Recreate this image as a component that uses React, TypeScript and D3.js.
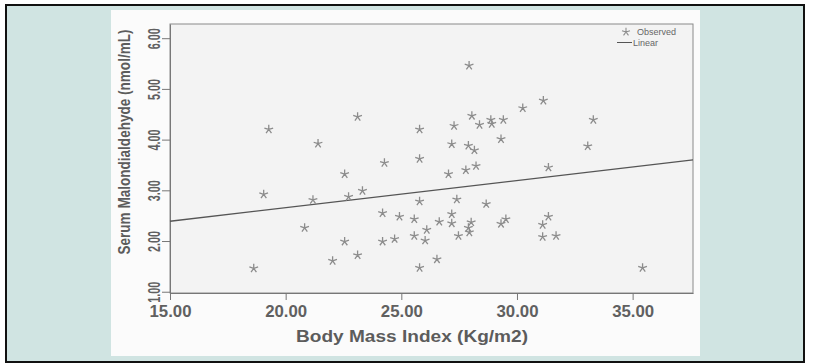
import * as d3 from "d3";
import { useEffect, useRef } from "react";

// BMI (Kg/m2) and serum MDA (nmol/mL)
const bmi = [
  19.27, 21.4, 22.55, 19.05, 21.18, 22.72, 20.82, 22.55, 22.03, 18.62,
  27.93, 23.11, 30.25, 28.05, 28.87, 29.41, 28.38, 28.91, 25.79, 27.28,
  27.18, 27.9, 28.16, 29.31, 24.27, 25.79, 27.04, 27.79, 28.23, 23.32,
  25.79, 27.4, 28.67, 24.19, 24.92, 25.56, 26.1, 26.64, 27.18, 27.18,
  28.02, 27.9, 27.94, 27.47, 29.31, 29.52, 25.56, 26.03, 24.71, 24.19,
  23.11, 26.54, 25.79, 31.14, 33.3, 33.06, 31.36, 31.36, 31.11, 31.11,
  31.69, 35.43,
];
const mda = [
  4.2, 3.92, 3.32, 2.92, 2.81, 2.87, 2.26, 1.99, 1.61, 1.46,
  5.46, 4.45, 4.62, 4.47, 4.39, 4.39, 4.29, 4.31, 4.2, 4.27,
  3.91, 3.88, 3.79, 4.01, 3.54, 3.62, 3.32, 3.4, 3.48, 2.99,
  2.78, 2.82, 2.73, 2.55, 2.48, 2.43, 2.22, 2.38, 2.53, 2.35,
  2.37, 2.26, 2.17, 2.1, 2.34, 2.43, 2.1, 2.01, 2.04, 1.99,
  1.72, 1.64, 1.47, 4.77, 4.39, 3.87, 3.45, 2.48, 2.32, 2.08,
  2.1, 1.47,
];

// linear fit end points
const fitX = [15, 37.61];
const fitY = [2.39, 3.6];

const xTicks = [15, 20, 25, 30, 35];
const yTicks = [1, 2, 3, 4, 5, 6];

const legendLabels = ["Observed", "Linear"];

const W = 814;
const H = 363;
const plot = { left: 170, right: 693, top: 24, bottom: 293 };
const font = "Liberation Sans, Arial, sans-serif";

const starPath = (r: number) => {
  const p = d3.path();
  for (let k = 0; k < 5; k++) {
    const a = ((-90 + k * 72) * Math.PI) / 180;
    p.moveTo(0, 0);
    p.lineTo(r * Math.cos(a), r * Math.sin(a));
  }
  return p.toString();
};

export default function App() {
  const ref = useRef<SVGSVGElement>(null);

  useEffect(() => {
    const svg = d3.select(ref.current);
    svg.selectAll("*").remove();

    const x = d3.scaleLinear().domain([15, 37.61]).range([plot.left, plot.right]);
    const y = d3.scaleLinear().domain([0.975, 6.28]).range([plot.bottom, plot.top]);

    // outer frame + background
    svg
      .append("rect")
      .attr("x", 6)
      .attr("y", 5)
      .attr("width", 798)
      .attr("height", 357)
      .attr("fill", "#d0e4e2")
      .attr("stroke", "#111")
      .attr("stroke-width", 2);

    svg
      .append("rect")
      .attr("x", 111)
      .attr("y", 10)
      .attr("width", 589)
      .attr("height", 346)
      .attr("fill", "#fbfbfb");

    svg
      .append("rect")
      .attr("x", plot.left)
      .attr("y", plot.top)
      .attr("width", plot.right - plot.left)
      .attr("height", plot.bottom - plot.top)
      .attr("fill", "#f3f3f3")
      .attr("stroke", "#8a8a8a")
      .attr("stroke-width", 1);

    // x axis
    const xAxis = svg
      .append("g")
      .attr("transform", `translate(0,${plot.bottom})`)
      .call(d3.axisBottom(x).tickValues(xTicks).tickSize(7).tickSizeOuter(0).tickFormat(d3.format(".2f")));
    xAxis.select(".domain").attr("stroke", "#777");
    xAxis.selectAll(".tick line").attr("stroke", "#777");
    xAxis
      .selectAll(".tick text")
      .attr("y", 24)
      .attr("dy", 0)
      .attr("fill", "#606060")
      .attr("font-family", font)
      .attr("font-weight", "bold")
      .attr("font-size", 16)
      .attr("textLength", 42)
      .attr("lengthAdjust", "spacingAndGlyphs");

    // y axis
    const yAxis = svg
      .append("g")
      .attr("transform", `translate(${plot.left},0)`)
      .call(d3.axisLeft(y).tickValues(yTicks).tickSize(8).tickSizeOuter(0).tickFormat(d3.format(".2f")));
    yAxis.select(".domain").attr("stroke", "#777");
    yAxis.selectAll(".tick line").attr("stroke", "#777");
    yAxis
      .selectAll(".tick text")
      .attr("x", null)
      .attr("dy", 0)
      .attr("transform", "translate(-10,0) rotate(-90)")
      .attr("text-anchor", "middle")
      .attr("fill", "#606060")
      .attr("font-family", font)
      .attr("font-weight", "bold")
      .attr("font-size", 17)
      .attr("textLength", 21)
      .attr("lengthAdjust", "spacingAndGlyphs");

    // titles
    svg
      .append("text")
      .attr("x", 412)
      .attr("y", 342)
      .attr("text-anchor", "middle")
      .attr("fill", "#5c5c5c")
      .attr("font-family", font)
      .attr("font-weight", "bold")
      .attr("font-size", 17)
      .attr("textLength", 232)
      .attr("lengthAdjust", "spacingAndGlyphs")
      .text("Body Mass Index (Kg/m2)");

    svg
      .append("text")
      .attr("transform", "translate(130,142) rotate(-90)")
      .attr("text-anchor", "middle")
      .attr("fill", "#5c5c5c")
      .attr("font-family", font)
      .attr("font-weight", "bold")
      .attr("font-size", 17)
      .attr("textLength", 225)
      .attr("lengthAdjust", "spacingAndGlyphs")
      .text("Serum Malondialdehyde (nmol/mL)");

    // fit line
    const line = d3
      .line<number>()
      .x((d) => x(d))
      .y((d, i) => y(fitY[i]));
    svg
      .append("path")
      .attr("d", line(fitX))
      .attr("fill", "none")
      .attr("stroke", "#555")
      .attr("stroke-width", 1.3);

    // observed points
    const star = starPath(4.6);
    svg
      .append("g")
      .selectAll("path")
      .data(bmi)
      .enter()
      .append("path")
      .attr("d", star)
      .attr("transform", (d, i) => `translate(${x(d)},${y(mda[i])})`)
      .attr("fill", "none")
      .attr("stroke", "#8c8c8c")
      .attr("stroke-width", 1.3);

    // legend
    const lg = svg.append("g").attr("font-family", font);
    lg.append("path")
      .attr("d", starPath(4.2))
      .attr("transform", "translate(626,32)")
      .attr("fill", "none")
      .attr("stroke", "#8c8c8c")
      .attr("stroke-width", 1.1);
    lg.append("line")
      .attr("x1", 617)
      .attr("x2", 632)
      .attr("y1", 42.5)
      .attr("y2", 42.5)
      .attr("stroke", "#555")
      .attr("stroke-width", 1);
    lg.selectAll("text")
      .data(legendLabels)
      .enter()
      .append("text")
      .attr("x", (d, i) => (i === 0 ? 637 : 633))
      .attr("y", (d, i) => 35 + i * 10.5)
      .attr("fill", "#666")
      .attr("font-size", 9)
      .text((d) => d);
  }, []);

  return (
    <svg
      ref={ref}
      width={W}
      height={H}
      style={{ position: "absolute", left: 0, top: 0 }}
    ></svg>
  );
}
